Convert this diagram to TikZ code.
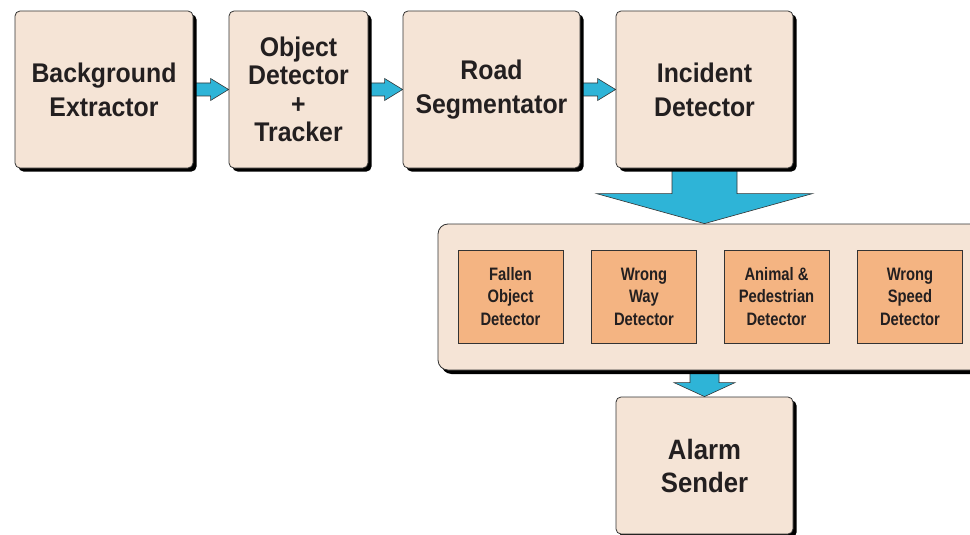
\documentclass[tikz,border=0pt]{standalone}
\usepackage{fontspec}
\newfontfamily\bigf{Liberation Sans}[FakeStretch=0.92]
\newfontfamily\smf{Liberation Sans}[FakeStretch=0.82]
\usetikzlibrary{calc,shadows}
\definecolor{boxfill}{HTML}{F5E4D6}
\definecolor{innerfill}{HTML}{F4B482}
\definecolor{arrowfill}{HTML}{2EB4D7}
\definecolor{edgec}{HTML}{333333}
\definecolor{txt}{HTML}{231F20}
\pgfdeclarelayer{bg}
\pgfsetlayers{bg,main}
\begin{document}
\begin{tikzpicture}[x=1pt,y=-1pt,
  stage/.style={draw=edgec, line width=0.8pt, fill=boxfill, rounded corners=5pt,
    drop shadow={shadow xshift=3.5pt, shadow yshift=-3.5pt, opacity=1, fill=black},
    text=txt, align=center, inner sep=0pt,
    font=\bigf\bfseries\fontsize{27}{34}\selectfont},
  holder/.style={draw=edgec, line width=0.8pt, fill=boxfill, rounded corners=10pt,
    drop shadow={shadow xshift=3.5pt, shadow yshift=-4pt, opacity=1, fill=black},
    inner sep=0pt},
  detbox/.style={draw=edgec, line width=0.7pt, fill=innerfill, text=txt, align=center,
    inner sep=0pt, minimum width=105pt, minimum height=93pt,
    font=\smf\bfseries\fontsize{18}{22.5}\selectfont},
  fatarrow/.style={fill=arrowfill, draw=edgec, line width=0.6pt}
]
\useasboundingbox (0,0) rectangle (970,535);
\clip (0,0) rectangle (970,535);

\node[stage, minimum width=178pt, minimum height=157pt] (b1) at (104,89.5) {Background\\Extractor};
\node[stage, minimum width=139pt, minimum height=157pt, font=\bigf\bfseries\fontsize{27}{28.5}\selectfont] (b2) at (298.5,89.5) {Object\\Detector\\+\\Tracker};
\node[stage, minimum width=177pt, minimum height=157pt] (b3) at (491.5,89.5) {\raisebox{3pt}{Road}\\\raisebox{3pt}{Segmentator}};
\node[stage, minimum width=177pt, minimum height=157pt] (b4) at (704.5,89.5) {Incident\\Detector};

\node[holder, minimum width=547pt, minimum height=146pt] (cont) at (711.5,297) {};
\node[detbox] (d1) at (510.5,296.5) {Fallen\\Object\\Detector};
\node[detbox] (d2) at (644,296.5) {Wrong\\Way\\Detector};
\node[detbox] (d3) at (776.5,296.5) {Animal \&\\Pedestrian\\Detector};
\node[detbox] (d4) at (910,296.5) {Wrong\\Speed\\Detector};

\node[stage, minimum width=177pt, minimum height=137pt, font=\bigf\bfseries\fontsize{28}{33}\selectfont] (alarm) at (704.5,465.5) {Alarm\\Sender};

\begin{pgfonlayer}{bg}
\foreach \a/\b in {b1/b2, b2/b3, b3/b4}{
  \path[fatarrow] let \p1=(\a.east), \p2=(\b.west) in
    (\x1,\y1+6.5pt) -- (\x2-18pt,\y1+6.5pt) -- (\x2-18pt,\y1+11pt) -- (\x2,\y1)
    -- (\x2-18pt,\y1-11pt) -- (\x2-18pt,\y1-6.5pt) -- (\x1,\y1-6.5pt) -- cycle;
}
\path[fatarrow] let \p1=(b4.south), \p2=(b4.south |- cont.north) in
  (\x1-32.5pt,\y1) -- (\x1-32.5pt,\y2+30pt) -- (\x1-108pt,\y2+30pt) -- (\x1,\y2)
  -- (\x1+108pt,\y2+30pt) -- (\x1+32.5pt,\y2+30pt) -- (\x1+32.5pt,\y1) -- cycle;
\path[fatarrow] let \p1=(alarm.north |- cont.south), \p2=(alarm.north) in
  (\x1-14.5pt,\y1) -- (\x1-14.5pt,\y2+14pt) -- (\x1-30.5pt,\y2+14pt) -- (\x1,\y2)
  -- (\x1+30.5pt,\y2+14pt) -- (\x1+14.5pt,\y2+14pt) -- (\x1+14.5pt,\y1) -- cycle;
\end{pgfonlayer}
\end{tikzpicture}
\end{document}
